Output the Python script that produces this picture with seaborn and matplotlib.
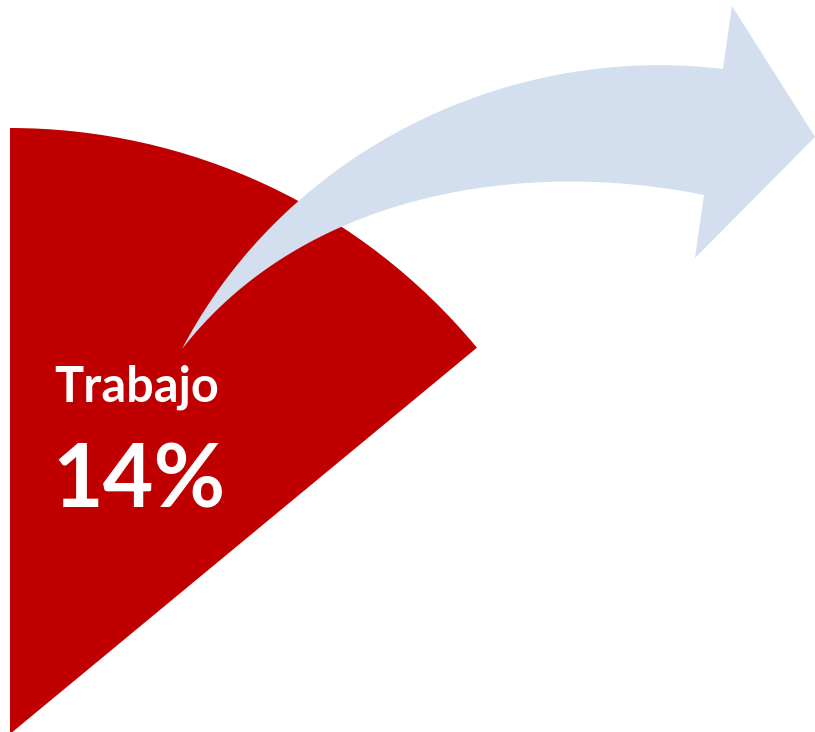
import matplotlib
matplotlib.use("Agg")
import matplotlib.pyplot as plt
from matplotlib.path import Path
from matplotlib.patches import PathPatch
import seaborn as sns
import numpy as np

# data
label = "Trabajo"
share = 14  # percent

W, H = 815, 732
red = "#C00000"
arrow_col = "#D3DFEE"

# arrow outline (pixel coords, y down)
upper_edge = [(182, 349), (220, 290), (253, 247), (303, 200), (350, 160), (400, 128),
              (460, 100), (520, 83), (620, 72), (723, 69)]
lower_edge = [(182, 349), (220, 310), (270, 263), (320, 237), (370, 215), (400, 207),
              (450, 193), (520, 183), (560, 182), (620, 183), (704, 195)]
head = [(723, 69), (732, 6), (815, 137), (695, 258), (704, 195)]


def bezier_fit(pts, n=80):
    # least-squares cubic bezier with fixed ends, sampled
    p = np.array(pts, float)
    d = np.r_[0, np.cumsum(np.hypot(*np.diff(p, axis=0).T))]
    t = d / d[-1]
    B = np.c_[(1 - t) ** 3, 3 * (1 - t) ** 2 * t, 3 * (1 - t) * t ** 2, t ** 3]
    rhs = p - np.outer(B[:, 0], p[0]) - np.outer(B[:, 3], p[-1])
    c1, c2 = np.linalg.lstsq(B[:, 1:3], rhs, rcond=None)[0]
    s = np.linspace(0, 1, n)[:, None]
    return ((1 - s) ** 3 * p[0] + 3 * (1 - s) ** 2 * s * c1
            + 3 * (1 - s) * s ** 2 * c2 + s ** 3 * p[-1])


sns.set_style("white")
plt.rcParams['font.family'] = ['Lato', 'DejaVu Sans']

fig = plt.figure(figsize=(W / 100, H / 100), dpi=100)
ax = fig.add_axes([0, 0, 1, 1])

# pie wedge: centre near bottom-left corner
ax.pie([share, 100 - share], colors=[red, "none"], startangle=90, counterclock=False,
       radius=606, center=(10, -2), wedgeprops=dict(linewidth=0), frame=True)

# curved arrow
up = bezier_fit(upper_edge)
lo = bezier_fit(lower_edge)[::-1]
outline = np.vstack([up, np.array(head[1:]), lo])
outline[:, 1] = H - outline[:, 1]
codes = [Path.MOVETO] + [Path.LINETO] * (len(outline) - 1)
ax.add_patch(PathPatch(Path(outline, codes), facecolor=arrow_col, edgecolor="none", zorder=3))

ax.text(137, H - 401, label, color="white", fontsize=35, fontweight="bold",
        ha="center", va="baseline", zorder=5)
ax.text(139, H - 507, f"{share}%", color="white", fontsize=63, fontweight="bold",
        ha="center", va="baseline", zorder=5)

ax.set_xlim(0, W)
ax.set_ylim(0, H)
ax.set_aspect("equal")
ax.axis("off")

fig.savefig("out.png", dpi=100, facecolor="white")
